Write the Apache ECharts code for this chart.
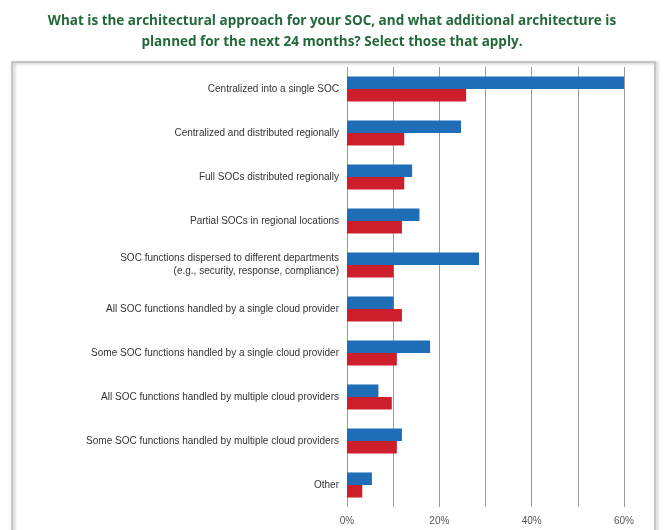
<!DOCTYPE html>
<html><head><meta charset="utf-8">
<script src="https://cdn.jsdelivr.net/npm/echarts@6/dist/echarts.min.js"></script>
<style>html,body{margin:0;padding:0;background:#fff}#c{width:664px;height:530px}</style>
</head><body><div id="c"></div>
<script>
var categories = [
  "Centralized into a single SOC",
  "Centralized and distributed regionally",
  "Full SOCs distributed regionally",
  "Partial SOCs in regional locations",
  "SOC functions dispersed to different departments\n(e.g., security, response, compliance)",
  "All SOC functions handled by a single cloud provider",
  "Some SOC functions handled by a single cloud provider",
  "All SOC functions handled by multiple cloud providers",
  "Some SOC functions handled by multiple cloud providers",
  "Other"
];
var currentValues = [60.6, 24.7, 14.1, 15.7, 28.6, 10.1, 18.0, 6.8, 11.9, 5.4];
var plannedValues = [25.8, 12.4, 12.4, 11.9, 10.1, 11.9, 10.8, 9.7, 10.8, 3.3];
var seriesNames = ["Current", "Next 24 Months"];
var titleText = "What is the architectural approach for your SOC, and what additional architecture is\nplanned for the next 24 months? Select those that apply.";

var chart = echarts.init(document.getElementById('c'), null, {renderer: 'canvas'});
chart.setOption({
  animation: false,
  backgroundColor: '#ffffff',
  title: {
    text: titleText, left: 'center', top: 6,
    textStyle: {color: '#22683a', fontFamily: 'Open Sans', fontWeight: 'bold', fontSize: 13.5, lineHeight: 21}
  },
  graphic: [{
    type: 'rect', shape: {x: 12, y: 62, width: 643, height: 480},
    style: {fill: 'rgba(0,0,0,0)', stroke: '#b8b8b8', lineWidth: 1.5, shadowColor: 'rgba(0,0,0,0.3)', shadowBlur: 3, shadowOffsetX: 2, shadowOffsetY: 1},
    z: -1
  }],
  grid: {left: 347, right: 40, top: 67, bottom: 23},
  xAxis: {
    type: 'value', min: 0, max: 60, interval: 10,
    axisLine: {show: false}, axisTick: {show: false},
    axisLabel: {
      color: '#555', fontSize: 10, fontFamily: 'Liberation Sans', margin: 9,
      formatter: function (v) { return v % 20 === 0 ? v + '%' : ''; }
    },
    splitLine: {show: true, lineStyle: {color: '#9a9a9a', width: 1}}
  },
  yAxis: {
    type: 'category', data: categories, inverse: true,
    axisLine: {show: false}, axisTick: {show: false},
    axisLabel: {color: '#333', fontSize: 10, fontFamily: 'Liberation Sans', margin: 8, lineHeight: 13, align: 'right'}
  },
  series: [
    {name: seriesNames[0], type: 'bar', data: currentValues, barGap: '0%', barCategoryGap: '43%',
     itemStyle: {color: '#1f6cb7'}},
    {name: seriesNames[1], type: 'bar', data: plannedValues,
     itemStyle: {color: '#cc1f2b'}}
  ]
});
</script></body></html>
